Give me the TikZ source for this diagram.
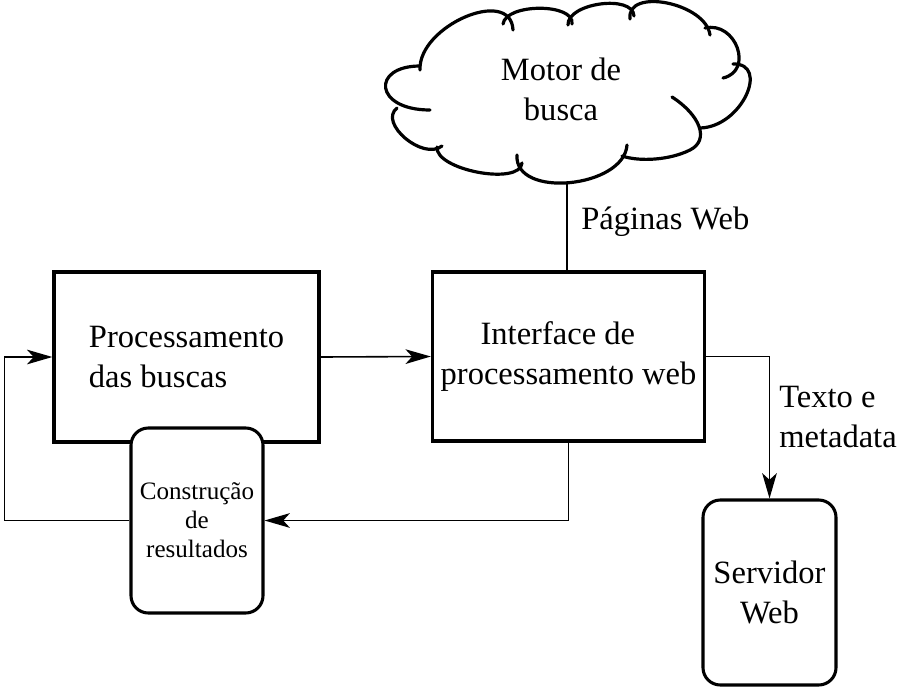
\documentclass[tikz,border=0pt]{standalone}
\usepackage{fontspec}
\setmainfont{Liberation Serif}
\usetikzlibrary{arrows.meta,calc}
\tikzset{
  blk/.style={draw, line width=2.5pt, rectangle, inner sep=0pt, fill=white},
  rbox/.style={draw, line width=2.3pt, rectangle, rounded corners=13pt, inner sep=0pt, fill=white, align=center},
  conn/.style={line width=1.2pt, line join=miter},
  arr/.style={conn, -{Stealth[length=19pt, width=11pt, inset=5pt]}},
  bigtxt/.style={font=\fontsize{24.4}{30}\selectfont},
  smalltxt/.style={font=\fontsize{18.8}{21.8}\selectfont},
  cloudline/.style={line width=2.4pt, line cap=round}
}
\begin{document}
\begin{tikzpicture}[x=0.75pt,y=-0.75pt]
\useasboundingbox (0,0) rectangle (900,700);

% cloud
\draw[cloudline] (420,70) .. controls (418,26) and (511,-14) .. (513,30);
\draw[cloudline] (503,24) .. controls (506,3) and (575,3) .. (572,24);
\draw[cloudline] (568,25) .. controls (567,3) and (633,-6) .. (634,16);
\draw[cloudline] (630,19) .. controls (626,-13) and (706,3) .. (710,35);
\draw[cloudline] (705,28) .. controls (736,21) and (754,71) .. (723,78);
\draw[cloudline] (733,64) .. controls (770,63) and (742,127) .. (700,128);
\draw[cloudline] (672,97) .. controls (700,115) and (710,140) .. (690,150) .. controls (670,160) and (640,162) .. (622,156);
\draw[cloudline] (627,145) .. controls (624,188) and (514,199) .. (517,155);
\draw[cloudline] (437,147) .. controls (435,170) and (520,186) .. (522,163);
\draw[cloudline] (397,108) .. controls (378,123) and (423,161) .. (442,146);
\draw[cloudline] (430,110) .. controls (374,110) and (371,66) .. (420,66);
\node[bigtxt, align=center] (motor) at (561,89) {Motor de\\busca};
\coordinate (cloudbot) at (567,182);

% boxes
\node[blk, minimum width=198.75pt, minimum height=127.5pt, bigtxt, align=left] (proc) at (186.5,357) {Processamento\\das buscas};
\node[blk, minimum width=204pt, minimum height=126.75pt, bigtxt, align=center] (iface) at (568.5,356.5) {Interface de\rule{16pt}{0pt}\\processamento web};
\node[rbox, minimum width=99pt, minimum height=138.75pt, smalltxt] (constr) at (197,520.5) {Construção\\de\\resultados};
\node[rbox, minimum width=99.75pt, minimum height=138.75pt, bigtxt] (srv) at (769.5,592.5) {Servidor\\Web};

% connectors
\coordinate (lc) at (4.5,0);
\draw[conn] (cloudbot) -- (cloudbot |- iface.north);
\draw[arr] (proc.east) -- (iface.west);
\draw[arr] (iface.east) -| (srv.north);
\draw[arr] (iface.south) |- (constr.east);
\draw[arr] (constr.west) -- (constr.west -| lc) |- (proc.west);

% labels
\node[bigtxt, anchor=west, inner sep=0pt] (pw) at (581,222) {Páginas Web};
\node[bigtxt, anchor=west, align=left, inner sep=0pt] (tm) at (779,417) {Texto e\\metadata};
\end{tikzpicture}
\end{document}
